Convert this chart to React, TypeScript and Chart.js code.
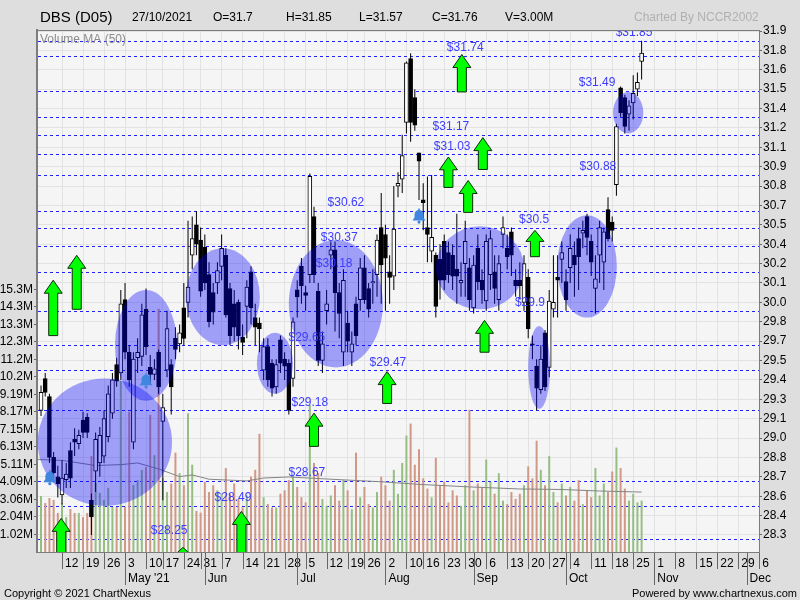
import React, { useEffect, useRef } from 'react';
import { Chart, registerables } from 'chart.js';

Chart.register(...registerables);

const FONT = 'Arial, "Liberation Sans", Helvetica, sans-serif';

// ---- Daily OHLC (index 0 = 5 Apr 2021 ... index 143 = 27 Oct 2021) ----
const openP = [
  29.18, 29.41, 29.28, 28.84, 28.70, 28.57, 28.68, 28.89, 28.97, 28.94,
  29.11, 29.13, 28.53, 28.74, 28.80, 28.85, 28.99, 29.16, 29.51, 29.45,
  29.98, 29.60, 28.95, 29.56, 29.57, 29.91, 29.49, 29.44, 29.60, 29.10,
  29.47, 29.51, 29.70, 29.66, 29.92, 29.96, 30.30, 30.52, 30.41, 30.36,
  30.16, 30.03, 30.10, 30.22, 30.30, 30.06, 29.95, 29.96, 29.71, 29.93,
  30.18, 29.85, 29.81, 29.47, 29.64, 29.52, 29.35, 29.69, 29.55, 29.52,
  29.41, 30.05, 30.22, 30.03, 30.16, 30.58, 30.04, 29.54, 29.90, 30.30,
  30.34, 30.03, 29.60, 29.81, 29.60, 29.95, 29.98, 30.21, 30.06, 30.10,
  30.16, 30.50, 30.45, 30.18, 30.15, 30.80, 30.85, 31.26, 31.72, 31.44,
  31.04, 30.70, 30.50, 30.33, 30.30, 30.27, 30.40, 30.32, 30.30, 30.20,
  30.10, 30.24, 30.21, 29.92, 30.35, 30.12, 29.97, 30.16, 30.18, 29.98,
  30.45, 30.35, 30.47, 30.12, 30.12, 29.96, 30.14, 29.66, 29.50, 29.33,
  29.74, 29.49, 29.91, 30.14, 30.27, 30.11, 30.21, 30.30, 30.42, 30.46,
  30.58, 30.40, 30.06, 30.30, 30.25, 30.63, 30.54, 30.81, 31.51, 31.44,
  31.32, 31.40, 31.50, 31.70,
];
const highP = [
  29.36, 29.45, 29.30, 28.88, 28.78, 28.82, 28.80, 28.95, 29.05, 29.04,
  29.17, 29.16, 28.58, 29.02, 29.06, 29.18, 29.36, 29.45, 29.56, 30.05,
  30.10, 29.65, 29.60, 29.70, 29.95, 30.06, 29.58, 29.55, 29.62, 29.30,
  29.90, 29.55, 29.78, 29.80, 30.10, 30.55, 30.58, 30.62, 30.50, 30.45,
  30.25, 30.10, 30.25, 30.45, 30.35, 30.10, 30.05, 29.98, 29.80, 30.12,
  30.22, 29.95, 29.85, 29.70, 29.70, 29.55, 29.55, 29.72, 29.60, 29.55,
  29.85, 30.12, 30.28, 30.08, 30.89, 30.65, 30.10, 29.75, 30.05, 30.40,
  30.40, 30.10, 30.20, 29.90, 29.75, 30.00, 30.28, 30.30, 30.10, 30.20,
  30.45, 30.75, 30.52, 30.30, 30.80, 30.90, 31.17, 31.70, 31.76, 31.50,
  31.04, 30.82, 30.87, 30.88, 30.32, 30.38, 30.45, 30.40, 30.38, 30.60,
  30.25, 30.55, 30.28, 30.30, 30.45, 30.20, 30.45, 30.48, 30.30, 30.30,
  30.58, 30.45, 30.50, 30.20, 30.25, 30.30, 30.20, 29.72, 29.55, 29.65,
  29.76, 30.05, 30.30, 30.30, 30.40, 30.20, 30.45, 30.40, 30.50, 30.55,
  30.60, 30.45, 30.30, 30.55, 30.50, 30.72, 30.58, 31.25, 31.52, 31.46,
  31.42, 31.60, 31.62, 31.85,
];
const lowP = [
  29.14, 29.28, 28.80, 28.66, 28.55, 28.50, 28.62, 28.62, 28.85, 28.90,
  28.98, 28.98, 28.28, 28.59, 28.70, 28.80, 28.95, 29.12, 29.35, 29.40,
  29.55, 29.35, 28.90, 29.45, 29.50, 29.58, 29.38, 29.40, 29.30, 28.53,
  29.42, 29.15, 29.55, 29.60, 29.65, 29.85, 30.20, 30.30, 30.00, 30.05,
  29.78, 29.80, 30.02, 30.12, 29.85, 29.65, 29.68, 29.62, 29.58, 29.70,
  29.80, 29.65, 29.60, 29.40, 29.35, 29.28, 29.30, 29.45, 29.40, 29.15,
  29.35, 29.85, 29.95, 29.90, 30.10, 30.10, 29.50, 29.45, 29.80, 30.20,
  29.75, 29.70, 29.50, 29.60, 29.50, 29.65, 29.90, 29.95, 29.85, 29.95,
  30.00, 29.95, 29.90, 29.95, 30.05, 30.72, 30.75, 31.18, 31.12, 31.20,
  30.70, 30.48, 30.25, 30.25, 29.85, 29.98, 30.05, 30.10, 30.05, 29.95,
  30.00, 30.00, 29.90, 29.88, 30.05, 29.95, 29.90, 30.05, 29.95, 29.90,
  30.35, 30.20, 30.15, 30.00, 29.98, 29.90, 29.70, 29.55, 29.18, 29.30,
  29.32, 29.42, 29.85, 29.85, 30.10, 29.90, 30.10, 30.00, 30.05, 30.35,
  30.30, 30.15, 29.88, 30.10, 30.05, 30.40, 30.40, 30.73, 31.30, 31.18,
  31.20, 31.28, 31.45, 31.57,
];
const closeP = [
  29.31, 29.31, 28.84, 28.73, 28.65, 28.69, 28.72, 28.69, 28.95, 29.00,
  29.02, 29.02, 28.41, 28.97, 29.00, 29.12, 29.30, 29.40, 29.39, 29.95,
  29.60, 29.40, 29.55, 29.60, 29.87, 29.64, 29.44, 29.48, 29.35, 29.20,
  29.77, 29.35, 29.62, 29.74, 29.70, 30.07, 30.42, 30.38, 30.04, 30.10,
  29.82, 29.89, 30.19, 30.35, 29.87, 29.72, 29.78, 29.72, 29.67, 30.07,
  29.92, 29.78, 29.77, 29.64, 29.40, 29.34, 29.51, 29.52, 29.50, 29.18,
  29.82, 30.00, 30.08, 30.01, 30.87, 30.16, 29.54, 29.66, 29.95, 30.34,
  30.03, 29.88, 30.12, 29.68, 29.66, 29.72, 30.21, 29.98, 29.91, 30.11,
  30.41, 30.23, 30.28, 30.14, 30.49, 30.82, 31.02, 31.69, 31.26, 31.24,
  30.98, 30.68, 30.45, 30.43, 29.93, 30.12, 30.12, 30.16, 30.15, 30.15,
  30.12, 30.40, 29.98, 30.23, 30.11, 30.05, 30.40, 30.42, 30.06, 30.24,
  30.50, 30.29, 30.30, 30.08, 30.08, 30.24, 29.77, 29.65, 29.34, 29.55,
  29.35, 29.97, 29.96, 30.12, 30.32, 29.98, 30.35, 30.23, 30.29, 30.48,
  30.43, 30.25, 30.13, 30.50, 30.47, 30.42, 30.48, 31.23, 31.33, 31.23,
  31.38, 31.47, 31.55, 31.76,
];
// volume in millions
const volumeM = [
  3.27, 2.86, 3.15, 3.04, 2.28, 2.86, 2.04, 2.51, 2.28, 2.28,
  2.04, 2.28, 5.60, 4.03, 3.45, 3.04, 3.74, 2.63, 2.63, 10.0,
  2.63, 8.18, 3.91, 4.20, 4.79, 4.96, 8.00, 5.66, 14.2, 4.30,
  3.50, 4.00, 5.80, 4.60, 3.90, 8.10, 5.10, 2.40, 2.30, 4.10,
  3.50, 3.90, 3.60, 3.40, 4.90, 3.40, 4.00, 3.10, 2.60, 3.30,
  4.40, 4.80, 6.90, 3.20, 2.80, 2.60, 2.60, 3.40, 3.60, 4.20,
  4.50, 3.80, 3.20, 2.90, 8.60, 5.20, 4.60, 3.10, 2.70, 3.30,
  3.90, 3.00, 4.20, 3.60, 2.50, 5.80, 3.20, 3.80, 2.80, 2.60,
  3.50, 4.40, 3.90, 3.00, 4.80, 3.40, 5.20, 6.80, 7.50, 5.10,
  6.00, 4.30, 3.70, 3.20, 5.50, 3.90, 4.10, 2.90, 3.60, 3.30,
  2.70, 3.90, 8.30, 3.60, 4.00, 3.80, 5.40, 4.10, 3.40, 4.60,
  3.00, 2.80, 3.50, 3.10, 3.40, 3.90, 5.00, 4.30, 6.50, 4.80,
  3.90, 5.60, 3.50, 2.90, 4.00, 3.30, 3.80, 3.00, 4.20, 2.80,
  3.60, 3.20, 4.90, 3.30, 4.00, 3.50, 4.70, 6.10, 4.90, 3.70,
  3.00, 3.40, 2.90, 3.00,
];
// Volume MA(50) read at sample points
const maIdx = [-0.7, 5, 13, 19, 23, 28, 33, 36, 40, 49, 53, 59, 69, 81, 90, 102, 114, 124, 133, 143];
const maVol = [5.4, 5.35, 5.05, 5.1, 5.2, 4.85, 4.4, 4.5, 4.25, 4.15, 4.32, 4.38, 4.25, 4.1, 3.95, 3.8, 3.68, 3.65, 3.56, 3.5];

// ---- Axes ----
const weekTickIdx = [5, 10, 15, 20, 25, 29, 34, 38, 43, 48, 53, 58, 63, 68, 73, 77, 82, 87, 91, 96, 101, 106, 111, 116, 121, 126, 131, 136, 141, 146, 151, 156, 161, 166, 171];
const weekTickLabels = ['12', '19', '26', '3', '10', '17', '24', '31', '7', '14', '21', '28', '5', '12', '19', '26', '2', '10', '16', '23', '30', '6', '13', '20', '27', '4', '11', '18', '25', '1', '8', '15', '22', '29', '6'];
const monthIdx = [20, 39, 61, 82, 103, 125, 146, 168];
const monthLabels = ["May '21", 'Jun', 'Jul', 'Aug', 'Sep', 'Oct', 'Nov', 'Dec'];
const priceTicks = [31.92, 31.78, 31.64, 31.50, 31.36, 31.22, 31.08, 30.94, 30.80, 30.66, 30.52, 30.38, 30.24, 30.10, 29.96, 29.82, 29.68, 29.54, 29.40, 29.26, 29.12, 28.98, 28.84, 28.70, 28.56, 28.42, 28.28];
const priceTickLabels = ['31.9', '31.8', '31.6', '31.5', '31.4', '31.2', '31.1', '30.9', '30.8', '30.7', '30.5', '30.4', '30.2', '30.1', '30.0', '29.8', '29.7', '29.5', '29.4', '29.3', '29.1', '29.0', '28.8', '28.7', '28.6', '28.4', '28.3'];
const volTicks = [1.0219, 2.0438, 3.0657, 4.0876, 5.1095, 6.1314, 7.1533, 8.1752, 9.1971, 10.219, 11.2409, 12.2628, 13.2847, 14.3066, 15.3285];
const volTickLabels = ['1.02M', '2.04M', '3.06M', '4.09M', '5.11M', '6.13M', '7.15M', '8.17M', '9.19M', '10.2M', '11.2M', '12.3M', '13.3M', '14.3M', '15.3M'];

// ---- Annotations (data coordinates) ----
const levelPrice = [31.85, 31.74, 31.49, 31.30, 31.17, 31.03, 30.88, 30.62, 30.50, 30.37, 30.18, 29.90, 29.65, 29.47, 29.18, 28.67, 28.49, 28.25];
const levelText = ['$31.85', '$31.74', '$31.49', '', '$31.17', '$31.03', '$30.88', '$30.62', '$30.5', '$30.37', '$30.18', '$29.9', '$29.65', '$29.47', '$29.18', '$28.67', '$28.49', '$28.25'];
const levelTextIdx = [141.2, 101, 132.4, 0, 97.6, 97.9, 132.6, 72.6, 117.4, 71, 69.8, 116.4, 63.3, 82.6, 64, 63.3, 45.7, 30.5];

const zoneIdx = [15.2, 25, 43.3, 55.7, 70.2, 104.5, 118.6, 130, 139.8];
const zonePrice = [28.95, 29.65, 30.0, 29.52, 29.95, 30.21, 29.49, 30.22, 31.33];
const zoneHalfDays = [16, 7.4, 8.8, 4.3, 11.2, 10.5, 2.6, 7.1, 3.6];
const zoneHalfPrice = [0.46, 0.40, 0.35, 0.22, 0.46, 0.30, 0.30, 0.37, 0.15];

const arrowIdx = [2.9, 8.5, 4.8, 47.7, 33.8, 65, 82.4, 100.2, 105.2, 97, 101.7, 105.6, 117.6];
const arrowTip = [30.12, 30.30, 28.40, 28.45, 28.19, 29.16, 29.46, 31.75, 31.15, 31.01, 30.84, 29.83, 30.48];
const arrowTail = [29.72, 29.91, 28.05, 28.05, 28.05, 28.92, 29.23, 31.48, 30.92, 30.79, 30.61, 29.60, 30.29];

const bellIdx = [2.1, 25, 90];
const bellPrice = [28.69, 29.39, 30.58];

const X_MIN = -0.72;
const X_MAX = 170.95;
const P_MIN = 28.157;
const P_MAX = 31.92;
const V_MAX = 30.42;

const idx = openP.map((_, i) => i);
const isUp = (i: number) => closeP[i] >= openP[i];

function drawArrow(ctx: CanvasRenderingContext2D, cx: number, yTip: number, yTail: number) {
  const hw = 9;
  const sw = 4.5;
  const hh = Math.min(13, (yTail - yTip) * 0.42);
  ctx.beginPath();
  ctx.moveTo(cx, yTip);
  ctx.lineTo(cx + hw, yTip + hh);
  ctx.lineTo(cx + sw, yTip + hh);
  ctx.lineTo(cx + sw, yTail);
  ctx.lineTo(cx - sw, yTail);
  ctx.lineTo(cx - sw, yTip + hh);
  ctx.lineTo(cx - hw, yTip + hh);
  ctx.closePath();
  ctx.fillStyle = '#00ff00';
  ctx.fill();
  ctx.strokeStyle = '#0b2b0b';
  ctx.lineWidth = 1;
  ctx.stroke();
}

function drawBell(ctx: CanvasRenderingContext2D, cx: number, cy: number) {
  ctx.fillStyle = '#3f86e0';
  ctx.beginPath();
  ctx.moveTo(cx - 6.5, cy + 4);
  ctx.lineTo(cx - 4.5, cy + 1);
  ctx.lineTo(cx - 4.5, cy - 2);
  ctx.arc(cx, cy - 2, 4.5, Math.PI, 0);
  ctx.lineTo(cx + 4.5, cy + 1);
  ctx.lineTo(cx + 6.5, cy + 4);
  ctx.closePath();
  ctx.fill();
  ctx.fillRect(cx - 0.8, cy - 8, 1.6, 2);
  ctx.beginPath();
  ctx.arc(cx, cy + 5.5, 1.6, 0, Math.PI * 2);
  ctx.fill();
}

const overlayPlugin = {
  id: 'dbsOverlay',
  beforeDraw(chart: any) {
    const { ctx, chartArea: a, width, height } = chart;
    ctx.save();
    ctx.fillStyle = '#dedede';
    ctx.fillRect(0, 0, width, height);
    ctx.fillStyle = '#f5f5f5';
    ctx.fillRect(a.left, a.top, a.right - a.left, a.bottom - a.top);
    ctx.restore();
  },
  beforeDatasetsDraw(chart: any) {
    const { ctx, chartArea: a, scales } = chart;
    ctx.save();
    ctx.strokeStyle = '#2020ff';
    ctx.lineWidth = 1;
    ctx.setLineDash([3, 3]);
    levelPrice.forEach((p) => {
      const y = Math.round(scales.y.getPixelForValue(p)) + 0.5;
      ctx.beginPath();
      ctx.moveTo(a.left, y);
      ctx.lineTo(a.right, y);
      ctx.stroke();
    });
    ctx.restore();
  },
  afterDatasetsDraw(chart: any) {
    const { ctx, chartArea: a, scales } = chart;
    const sx = scales.x;
    const sy = scales.y;
    ctx.save();
    ctx.beginPath();
    ctx.rect(a.left, a.top, a.right - a.left, a.bottom - a.top);
    ctx.clip();
    ctx.fillStyle = 'rgba(0,0,255,0.35)';
    zoneIdx.forEach((ci, k) => {
      const cx = sx.getPixelForValue(ci);
      const cy = sy.getPixelForValue(zonePrice[k]);
      const rx = Math.abs(sx.getPixelForValue(ci + zoneHalfDays[k]) - cx);
      const ry = Math.abs(sy.getPixelForValue(zonePrice[k] + zoneHalfPrice[k]) - cy);
      ctx.beginPath();
      ctx.ellipse(cx, cy, rx, ry, 0, 0, Math.PI * 2);
      ctx.fill();
    });
    arrowIdx.forEach((ai, k) => {
      drawArrow(ctx, sx.getPixelForValue(ai), sy.getPixelForValue(arrowTip[k]), sy.getPixelForValue(arrowTail[k]));
    });
    bellIdx.forEach((bi, k) => {
      drawBell(ctx, sx.getPixelForValue(bi), sy.getPixelForValue(bellPrice[k]));
    });
    ctx.font = `12px ${FONT}`;
    ctx.fillStyle = '#3c3cff';
    ctx.textAlign = 'center';
    ctx.textBaseline = 'middle';
    levelText.forEach((t, k) => {
      if (!t) return;
      ctx.fillText(t, sx.getPixelForValue(levelTextIdx[k]), sy.getPixelForValue(levelPrice[k]) - 8);
    });
    ctx.fillStyle = '#8c8c8c';
    ctx.textAlign = 'left';
    ctx.fillText('Volume MA (50)', a.left + 2, a.top + 9);
    ctx.restore();
  },
  afterDraw(chart: any) {
    const { ctx, chartArea: a, scales } = chart;
    ctx.save();
    ctx.strokeStyle = '#7c7c7c';
    ctx.lineWidth = 1;
    ctx.strokeRect(a.left - 0.5, a.top - 0.5, a.right - a.left + 1, a.bottom - a.top + 1);
    ctx.strokeRect(a.left - 1.5, a.top - 1.5, 1, a.bottom - a.top + 2);
    ctx.strokeStyle = '#666666';
    weekTickIdx.forEach((v) => {
      const x = Math.round(scales.x.getPixelForValue(v)) + 0.5;
      ctx.beginPath();
      ctx.moveTo(x, a.bottom + 1);
      ctx.lineTo(x, a.bottom + 17);
      ctx.stroke();
    });
    monthIdx.forEach((v) => {
      const x = Math.round(scales.x.getPixelForValue(v)) + 0.5;
      ctx.beginPath();
      ctx.moveTo(x, a.bottom + 1);
      ctx.lineTo(x, a.bottom + 33);
      ctx.stroke();
    });
    ctx.fillStyle = '#000';
    ctx.textBaseline = 'alphabetic';
    ctx.textAlign = 'left';
    ctx.font = `15px ${FONT}`;
    ctx.fillText('DBS (D05)', 40, 22);
    ctx.font = `12px ${FONT}`;
    ctx.fillText('27/10/2021', 132, 21);
    ctx.fillText('O=31.7', 213, 21);
    ctx.fillText('H=31.85', 286, 21);
    ctx.fillText('L=31.57', 359, 21);
    ctx.fillText('C=31.76', 432, 21);
    ctx.fillText('V=3.00M', 505, 21);
    ctx.fillStyle = '#b0b0b0';
    ctx.fillText('Charted By NCCR2002', 634, 21);
    ctx.fillStyle = '#000';
    ctx.font = `11px ${FONT}`;
    ctx.fillText('Copyright \u00a9 2021 ChartNexus', 4, 597);
    ctx.textAlign = 'right';
    ctx.fillText('Powered by www.chartnexus.com', 797, 597);
    ctx.restore();
  },
};

const zeroPad = (s: any) => {
  s.paddingLeft = 0;
  s.paddingRight = 0;
  s.paddingTop = 0;
  s.paddingBottom = 0;
};

export default function App() {
  const ref = useRef<HTMLCanvasElement>(null);
  useEffect(() => {
    if (!ref.current) return;
    const tickFont = { family: FONT, size: 12 };
    const chart = new Chart(ref.current, {
      type: 'bar',
      data: {
        datasets: [
          {
            type: 'bar',
            label: 'body',
            data: idx.map((i) => ({ x: i, y: [openP[i], closeP[i]] })) as any,
            xAxisID: 'x',
            yAxisID: 'y',
            backgroundColor: idx.map((i) => (isUp(i) ? '#ffffff' : '#000000')),
            borderColor: '#000000',
            borderWidth: 1,
            borderSkipped: false,
            barThickness: 4,
            minBarLength: 1,
            grouped: false,
            order: 1,
          } as any,
          {
            type: 'bar',
            label: 'wick',
            data: idx.map((i) => ({ x: i, y: [lowP[i], highP[i]] })) as any,
            xAxisID: 'x',
            yAxisID: 'y',
            backgroundColor: '#000000',
            barThickness: 1,
            inflateAmount: 0,
            grouped: false,
            order: 2,
          } as any,
          {
            type: 'line',
            label: 'volMA',
            data: maIdx.map((v, k) => ({ x: v, y: maVol[k] })) as any,
            xAxisID: 'x',
            yAxisID: 'yV',
            borderColor: '#858585',
            borderWidth: 1,
            pointRadius: 0,
            tension: 0,
            order: 3,
          } as any,
          {
            type: 'bar',
            label: 'volume',
            data: idx.map((i) => ({ x: i, y: volumeM[i] })) as any,
            xAxisID: 'x',
            yAxisID: 'yV',
            backgroundColor: idx.map((i) => (isUp(i) ? 'rgb(150,190,130)' : 'rgb(208,152,134)')),
            barThickness: 2,
            inflateAmount: 0,
            grouped: false,
            order: 4,
          } as any,
        ],
      },
      options: {
        responsive: false,
        animation: false,
        events: [],
        devicePixelRatio: 1,
        layout: { padding: { top: 31, left: 0, right: 0, bottom: 0 } },
        plugins: { legend: { display: false }, tooltip: { enabled: false } },
        scales: {
          x: {
            type: 'linear',
            position: 'bottom',
            min: X_MIN,
            max: X_MAX,
            offset: false,
            weight: 0,
            afterBuildTicks: (s: any) => {
              s.ticks = weekTickIdx.map((v) => ({ value: v }));
            },
            afterFit: (s: any) => {
              s.height = 18;
              zeroPad(s);
            },
            grid: { color: '#e2e2e2', drawTicks: false, offset: false },
            border: { display: false },
            ticks: {
              callback: (_v: any, k: number) => weekTickLabels[k],
              align: 'start',
              labelOffset: 3,
              padding: 4,
              autoSkip: false,
              maxRotation: 0,
              minRotation: 0,
              color: '#000',
              font: tickFont,
            },
          },
          xm: {
            type: 'linear',
            position: 'bottom',
            min: X_MIN,
            max: X_MAX,
            offset: false,
            weight: 1,
            afterBuildTicks: (s: any) => {
              s.ticks = monthIdx.map((v) => ({ value: v }));
            },
            afterFit: (s: any) => {
              s.height = 30;
              zeroPad(s);
            },
            grid: { display: false, drawTicks: false },
            border: { display: false },
            ticks: {
              callback: (_v: any, k: number) => monthLabels[k],
              align: 'start',
              labelOffset: 3,
              padding: 1,
              autoSkip: false,
              maxRotation: 0,
              minRotation: 0,
              color: '#000',
              font: tickFont,
            },
          },
          y: {
            type: 'linear',
            position: 'right',
            min: P_MIN,
            max: P_MAX,
            afterBuildTicks: (s: any) => {
              s.ticks = priceTicks.map((v) => ({ value: v }));
            },
            afterFit: (s: any) => {
              s.width = 41;
              zeroPad(s);
            },
            grid: { color: '#e2e2e2', tickLength: 3, tickColor: '#666' },
            border: { display: false },
            ticks: {
              callback: (_v: any, k: number) => priceTickLabels[k],
              padding: 1,
              autoSkip: false,
              color: '#000',
              font: tickFont,
            },
          },
          yV: {
            type: 'linear',
            position: 'left',
            min: 0,
            max: V_MAX,
            afterBuildTicks: (s: any) => {
              s.ticks = volTicks.map((v) => ({ value: v }));
            },
            afterFit: (s: any) => {
              s.width = 38;
              zeroPad(s);
            },
            grid: { drawOnChartArea: false, tickLength: 4, tickColor: '#666' },
            border: { display: false },
            ticks: {
              callback: (_v: any, k: number) => volTickLabels[k],
              padding: 1,
              autoSkip: false,
              color: '#000',
              font: tickFont,
            },
          },
        },
      } as any,
      plugins: [overlayPlugin],
    });
    return () => chart.destroy();
  }, []);

  return (
    <div style={{ position: 'absolute', left: 0, top: 0, width: 800, height: 600 }}>
      <canvas ref={ref} width={800} height={600} style={{ display: 'block', width: 800, height: 600 }} />
    </div>
  );
}
